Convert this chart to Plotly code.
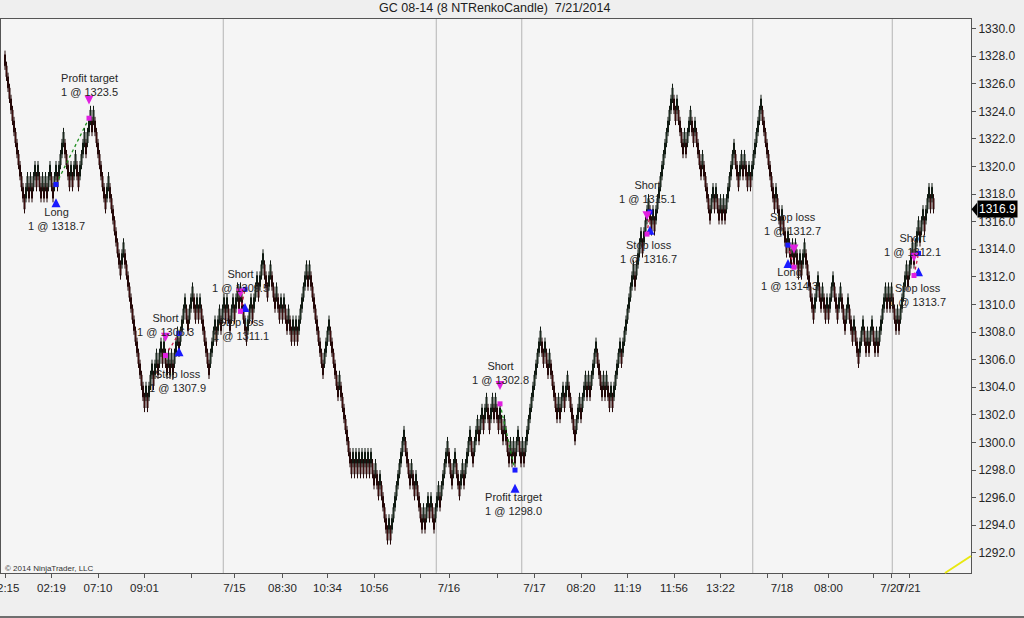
import plotly.graph_objects as go

# ---------------- data ----------------
TITLE = "GC 08-14 (8 NTRenkoCandle)\u00a0\u00a07/21/2014"
BRICK = 0.8                 # 8 ticks of 0.1
BASE_PRICE = 1316.9         # brick level 0 (last price)
START_LEVEL = 14            # first brick opens at 1328.1
# swing pivots of the brick closes, in brick levels relative to BASE_PRICE
PIVOT_LEVELS = [
    0, 3, 1, 3, 1, 4, 2, 4, 1, 3, 1, 3, 1, 4, 1,
    4, 2, 7, 2, 4, 2, 5, 2, 7, 5, 9, 7, 9, 0, 3, -6, -3, -18,
    -16, -18, -14, -16, -13, -15, -12, -14, -12, -15, -13, -15, -13, -15,
    -11, -13, -8, -11, -7, -10, -8, -10, -8, -15,
    -10, -12, -9, -11, -8, -10, -8, -11, -8, -10, -7, -9, -7,
    -12, -8, -10, -6, -8, -4,
    -8, -5, -9, -7, -10, -8, -10, -8, -11, -9, -12, -10, -12, -10, -12,
    -5, -7, -5, -15, -10, -17, -15, -24,
    -22, -24, -22, -24, -22, -24, -22, -24, -22, -24, -22, -24, -22,
    -25, -23, -26, -24, -30, -28, -30,
    -20, -25, -23, -26, -24, -29, -27, -29, -26, -28, -26, -29,
    -25, -27, -21, -25, -22, -26, -23, -25, -20, -23,
    -19, -21, -18, -20, -17,
    -20, -17, -19, -17, -20, -18, -21, -19, -23, -21, -23, -21, -23, -20, -23, -21, -23,
    -11, -14, -12, -15, -13, -19, -17, -19, -16, -18, -15, -21,
    -17, -19, -15, -17, -15, -17, -12,
    -17, -15, -17, -15, -18, -16, -18,
    -12, -14, -5, -7, -2, -4, 1, -2, 0, -2,
    11, 8, 10, 5, 7, 5, 9, 6, 8, 3, 5, -1, 2, 0, 2, -1, 1, -1, 1, -1,
    6, 2, 5, 3, 5, 2, 4, 2, 10,
    0, 2, -2, 0, -4, -2, -5, -3, -5, -3, -6, -4, -6, -3,
    -10, -6, -9, -7, -10, -8, -10, -6,
    -10, -7, -11, -8, -12, -10, -14, -10, -13, -11, -13, -10, -13, -11, -13,
    -7, -9, -7, -9, -7, -11, -9, -11,
    -5, -7, -3, -5, -1, -3, 0, -2, 2, 0, 2, 0,
]
LAST_PRICE = 1316.9

TICK_BARS = [0, 31, 62, 93, 124, 153, 185, 215, 246, 277, 296, 328, 353,
             384, 415, 446, 477, 508, 518, 549, 579, 591, 603]
TICK_LABELS = ["22:15", "02:19", "07:10", "09:01", "", "7/15", "08:30", "10:34",
               "10:56", "", "7/16", "", "7/17", "08:20", "11:19", "11:56",
               "13:22", "", "7/18", "08:00", "", "7/20", "7/21"]
SESSION_BREAKS = [145.5, 287.5, 344.5, 498.5, 591.5]

TRADE_NAMES = ["Long", "Profit target", "Short", "Stop loss", "Short", "Stop loss",
               "Short", "Profit target", "Short", "Stop loss", "Long", "Stop loss",
               "Short", "Stop loss"]
TRADE_PRICES = [1318.7, 1323.5, 1306.3, 1307.9, 1309.5, 1311.1, 1302.8, 1298.0,
                1315.1, 1316.7, 1314.3, 1312.7, 1312.1, 1313.7]
TRADE_BARS = [34, 56, 107, 116, 157, 160, 330, 340, 428, 430, 522, 526, 606, 609]
TRADE_SIDES = ["buy", "sell", "sell", "buy", "sell", "buy", "sell", "buy",
               "sell", "buy", "buy", "sell", "sell", "buy"]
TRADE_PAIRS = [(0, 1), (2, 3), (4, 5), (6, 7), (8, 9), (10, 11), (12, 13)]

# ---------------- layout / style ----------------
FONT = "Liberation Sans, Arial, sans-serif"
WICK = 0.3
ARROW_OFFSET = 1.0
LABEL_POS = [(34, 1316.16), (56, 1325.94), (107.3, 1308.48), (115.3, 1304.42),
             (156.7, 1311.70), (157.3, 1308.22), (330, 1305.0), (339.3, 1295.51),
             (428, 1318.12), (428.7, 1313.80), (523.3, 1311.88), (525.3, 1315.80),
             (605.3, 1314.31), (608, 1310.72)]
X_RANGE = [-2.667, 644]
Y_RANGE = [1290.54, 1330.69]
ML, MR, MT, MB = 1, 53, 19, 45
PW = 1024 - ML - MR

# ---------------- build renko bricks ----------------
opens, closes = [], []
last_open, last_close, direction = START_LEVEL + 1, START_LEVEL, -1
for target in PIVOT_LEVELS:
    d = 1 if target > last_close else -1
    while (target - last_close) * d > 0:
        o = last_close if d == direction else last_open
        c = o + d
        opens.append(o)
        closes.append(c)
        last_open, last_close, direction = o, c, d

o_p = [round(BASE_PRICE + BRICK * v, 2) for v in opens]
c_p = [round(BASE_PRICE + BRICK * v, 2) for v in closes]
h_p = [max(a, b) + WICK for a, b in zip(o_p, c_p)]
l_p = [min(a, b) - WICK for a, b in zip(o_p, c_p)]
bars = list(range(len(o_p)))

fig = go.Figure()

# trade connector lines
for a, b in TRADE_PAIRS:
    long_trade = TRADE_SIDES[a] == "buy"
    win = (TRADE_PRICES[b] > TRADE_PRICES[a]) == long_trade
    fig.add_trace(go.Scatter(
        x=[TRADE_BARS[a], TRADE_BARS[b]], y=[TRADE_PRICES[a], TRADE_PRICES[b]],
        mode="lines", line=dict(color="#1f8f1f" if win else "#d02050", width=1.3, dash="dot"),
        hoverinfo="skip", showlegend=False))

fig.add_trace(go.Candlestick(
    x=bars, open=o_p, high=h_p, low=l_p, close=c_p,
    increasing=dict(line=dict(color="#101a12", width=1), fillcolor="#4d6a55"),
    decreasing=dict(line=dict(color="#240808", width=1), fillcolor="#8c1d1d"),
    whiskerwidth=0, hoverinfo="skip", showlegend=False))

for side, col, sym in (("buy", "#1a1aff", "arrow-up"), ("sell", "#e020e0", "arrow-down")):
    xs = [b for b, s in zip(TRADE_BARS, TRADE_SIDES) if s == side]
    ps = [p for p, s in zip(TRADE_PRICES, TRADE_SIDES) if s == side]
    off = -ARROW_OFFSET if side == "buy" else ARROW_OFFSET
    fig.add_trace(go.Scatter(x=xs, y=ps, mode="markers",
                             marker=dict(symbol="square", size=5, color=col),
                             hoverinfo="skip", showlegend=False))
    fig.add_trace(go.Scatter(x=xs, y=[p + off for p in ps], mode="markers",
                             marker=dict(symbol=sym, size=9, color=col, line=dict(width=0)),
                             hoverinfo="skip", showlegend=False))

shapes = []
for sb in SESSION_BREAKS:
    shapes.append(dict(type="line", xref="x", yref="paper", x0=sb, x1=sb, y0=0, y1=1,
                       line=dict(color="#b4b4b4", width=1), layer="below"))
# yellow line bottom-right
shapes.append(dict(type="line", xref="paper", yref="paper",
                   x0=(945 - ML) / PW, y0=0, x1=1.0, y1=(573 - 556) / 554,
                   line=dict(color="#e8e810", width=2)))
# last-price pointer
px = lambda p: (p - ML) / PW
shapes.append(dict(type="path", xref="paper", yref="y",
                   path=f"M {px(971.5)} {LAST_PRICE} L {px(977)} {LAST_PRICE + 0.48} "
                        f"L {px(977)} {LAST_PRICE - 0.48} Z",
                   fillcolor="black", line=dict(width=0)))
# bottom frame line of the picture
shapes.append(dict(type="line", xref="paper", yref="paper", x0=-0.01, x1=1.06,
                   y0=-(617 - 573) / 554, y1=-(617 - 573) / 554,
                   line=dict(color="#444", width=1.5)))

annotations = []
for (lx, ly), name, price in zip(LABEL_POS, TRADE_NAMES, TRADE_PRICES):
    annotations.append(dict(x=lx, y=ly, xref="x", yref="y",
                            text=f"{name}<br>1 @ {price:.1f}", showarrow=False,
                            font=dict(family=FONT, size=11, color="#262626"),
                            align="center"))
annotations.append(dict(x=px(494.5), y=1 + (19 - 8.5) / 554, xref="paper", yref="paper",
                        text=TITLE, showarrow=False, xanchor="center", yanchor="middle",
                        font=dict(family=FONT, size=12.5, color="#202020")))
annotations.append(dict(x=px(2.5), y=(573 - 568) / 554, xref="paper", yref="paper",
                        text="\u00a9 2014 NinjaTrader, LLC", showarrow=False,
                        xanchor="left", yanchor="middle",
                        font=dict(family=FONT, size=8, color="#333")))
annotations.append(dict(x=px(977), y=LAST_PRICE, xref="paper", yref="y",
                        text=f"{LAST_PRICE:.1f}", showarrow=False, xanchor="left",
                        yanchor="middle", bgcolor="black", borderpad=1,
                        font=dict(family=FONT, size=12, color="white")))

fig.update_layout(
    width=1024, height=618,
    margin=dict(l=ML, r=MR, t=MT, b=MB, pad=0),
    paper_bgcolor="#efefef", plot_bgcolor="#f5f5f5",
    font=dict(family=FONT, size=12, color="#262626"),
    showlegend=False, hovermode=False, boxgap=0.05,
    shapes=shapes, annotations=annotations,
    xaxis=dict(range=X_RANGE, tickmode="array", tickvals=TICK_BARS, ticktext=TICK_LABELS,
               tickangle=0, ticklabeloverflow="allow",
               showgrid=False, zeroline=False, showline=True, mirror=True,
               linecolor="#555", linewidth=1, ticks="outside", ticklen=4,
               tickcolor="#555", tickfont=dict(size=11.5, color="#262626"),
               rangeslider=dict(visible=False), automargin=False, fixedrange=True),
    yaxis=dict(range=Y_RANGE, side="right", tickmode="linear", tick0=1292, dtick=2,
               tickformat=".1f", showgrid=False, zeroline=False, showline=True,
               mirror=True, linecolor="#555", linewidth=1, ticks="outside", ticklen=4,
               tickcolor="#555", tickfont=dict(size=12, color="#262626"),
               automargin=False, fixedrange=True),
)

fig.write_html("out.html", config={"displayModeBar": False},
               post_script="document.body.style.margin='0px';"
                           "document.body.style.background='#efefef';")
